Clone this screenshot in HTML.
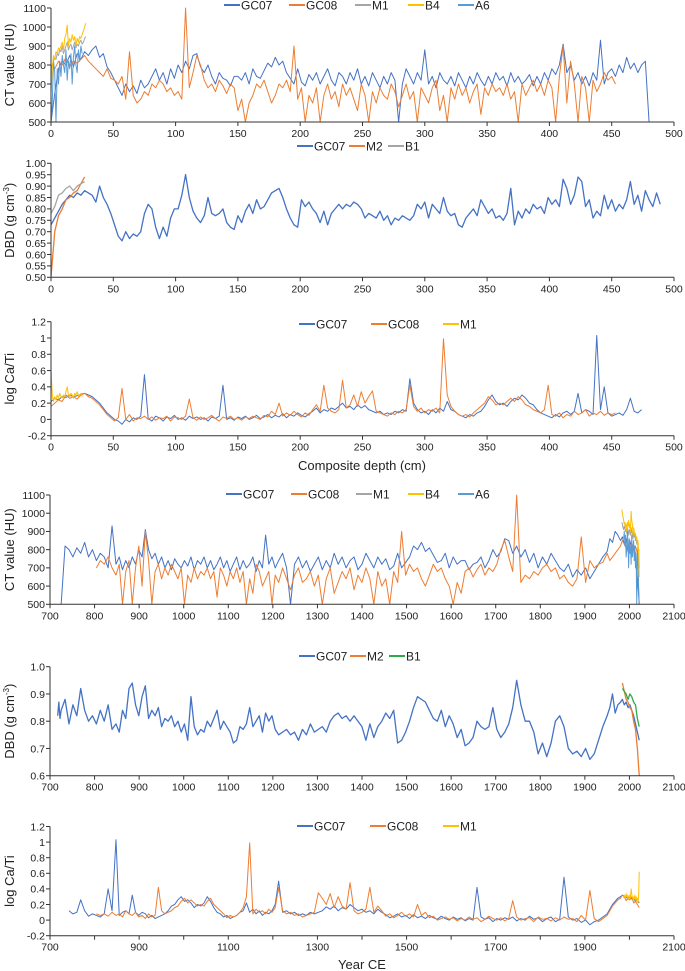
<!DOCTYPE html>
<html><head><meta charset="utf-8"><style>
html,body{margin:0;padding:0;background:#fff;}
svg{display:block;font-family:"Liberation Sans",Arial,sans-serif;}
</style></head><body>
<svg id="fig" width="685" height="971" viewBox="0 0 685 971" xmlns="http://www.w3.org/2000/svg"></svg>
<script>
// ---------- data (depth domain, cm) ----------
const ctGC07Start = 0, ctGC07Step = 3;
const ctGC07 = [500,650,780,820,800,850,790,860,830,870,
850,880,900,840,860,790,760,720,680,640,
700,660,690,650,720,680,700,740,780,720,
760,700,780,730,800,760,820,780,850,860,
790,760,800,740,700,760,730,720,690,740,
740,720,760,700,780,740,730,770,810,790,
840,800,820,760,730,700,780,710,690,750,
720,760,700,740,780,720,690,760,740,700,
760,720,780,700,740,690,760,720,680,740,
700,760,720,500,700,780,740,700,760,720,
880,700,740,680,760,720,700,740,690,760,
720,680,740,700,760,720,690,740,700,760,
720,740,690,760,710,740,700,720,750,690,
740,700,760,720,780,750,800,910,760,800,
720,760,700,740,690,760,720,930,700,760,
780,740,800,760,840,780,810,760,800,820,500];
const ctGC08Start = 0, ctGC08Step = 3;
const ctGC08 = [800,780,820,800,840,790,820,810,830,850,
820,800,780,760,740,780,730,720,700,740,
620,870,640,600,620,660,640,700,680,720,
700,660,680,640,660,620,1100,680,760,850,
800,720,680,700,660,720,690,650,700,680,
560,620,500,600,640,700,680,720,660,600,
640,700,680,720,660,900,620,680,500,640,
600,680,500,640,700,620,660,580,700,640,
680,620,560,700,640,500,660,600,680,640,
620,700,660,580,640,700,620,660,500,680,
640,600,680,720,560,640,500,680,620,700,
640,680,600,660,700,540,680,640,700,660,
680,640,700,620,660,500,700,640,680,720,
660,700,640,720,680,500,740,900,600,820,
700,500,740,680,500,720,660,700,760,720,
740,700];
const ctShortStep = 1;
const ctA6 = [500,600,820,760,500,780,700,820,740,850,800,760,880,720,820,780,860,700,840,900,800,760,880,820,900,860];
const ctB4 = [650,780,850,830,870,860,890,880,900,920,880,940,960,1010,900,940,920,960,930,950,900,940,920,950,940,960,980,1000,1020];
const ctM1 = [700,800,820,840,830,860,850,880,870,900,860,880,900,920,880,900,910,880,900,920,890,910,900,920,930,910,920,940,950];

const dbdGC07Step = 3;
const dbdGC07 = [0.73,0.76,0.79,0.82,0.84,0.86,0.85,0.87,0.86,0.88,
0.87,0.86,0.83,0.90,0.85,0.82,0.78,0.73,0.68,0.66,
0.70,0.67,0.69,0.68,0.70,0.78,0.82,0.80,0.72,0.67,
0.72,0.68,0.76,0.80,0.80,0.86,0.95,0.85,0.79,0.76,
0.74,0.77,0.85,0.78,0.77,0.78,0.80,0.74,0.72,0.71,
0.77,0.74,0.79,0.82,0.78,0.84,0.80,0.81,0.84,0.87,
0.88,0.89,0.85,0.80,0.76,0.73,0.72,0.84,0.81,0.83,
0.80,0.78,0.74,0.79,0.73,0.78,0.80,0.82,0.80,0.82,
0.81,0.83,0.82,0.80,0.76,0.78,0.77,0.76,0.79,0.75,
0.77,0.73,0.76,0.75,0.77,0.76,0.75,0.77,0.82,0.80,
0.83,0.76,0.82,0.80,0.78,0.85,0.79,0.77,0.78,0.73,
0.72,0.76,0.78,0.80,0.77,0.84,0.81,0.78,0.80,0.76,
0.77,0.75,0.78,0.89,0.73,0.79,0.76,0.80,0.78,0.82,
0.80,0.81,0.78,0.85,0.82,0.84,0.81,0.93,0.89,0.82,
0.86,0.94,0.92,0.81,0.84,0.76,0.79,0.77,0.86,0.80,
0.84,0.79,0.82,0.80,0.84,0.92,0.82,0.86,0.79,0.88,
0.84,0.81,0.87,0.82];
const dbdShortStep = 3;
const dbdM2 = [0.50,0.70,0.77,0.80,0.84,0.85,0.87,0.88,0.91,0.94];
const dbdB1 = [0.78,0.81,0.86,0.87,0.89,0.90,0.88,0.90,0.91,0.92];

const catiStep = 3;
const catiGC07 = [0.22,0.26,0.24,0.28,0.27,0.30,0.28,0.29,0.31,0.32,
0.30,0.28,0.24,0.20,0.14,0.08,0.04,0.00,-0.02,-0.06,
0.00,-0.03,0.02,0.00,0.04,0.55,0.01,-0.02,0.04,0.02,
-0.02,0.03,0.01,0.05,0.00,0.02,-0.01,0.04,0.01,0.03,
0.00,0.02,-0.02,0.03,0.01,0.04,0.42,0.00,0.02,-0.01,
0.03,0.01,0.04,0.00,0.02,0.05,0.01,0.03,0.06,0.02,
0.05,0.03,0.07,0.02,0.06,0.04,0.08,0.05,0.03,0.07,
0.10,0.14,0.08,0.12,0.10,0.14,0.12,0.16,0.20,0.14,
0.16,0.12,0.18,0.14,0.17,0.12,0.10,0.08,0.10,0.06,
0.08,0.06,0.10,0.08,0.12,0.10,0.50,0.20,0.12,0.08,
0.10,0.06,0.12,0.08,0.14,0.10,0.22,0.12,0.10,0.06,
0.04,0.02,0.06,0.04,0.08,0.10,0.16,0.24,0.30,0.22,
0.18,0.20,0.16,0.22,0.26,0.24,0.30,0.26,0.20,0.18,
0.12,0.08,0.06,0.04,0.02,0.06,0.03,0.08,0.10,0.06,
0.10,0.32,0.08,0.12,0.10,0.06,1.03,0.12,0.40,0.08,
0.04,0.06,0.08,0.05,0.12,0.26,0.10,0.08,0.12];
const catiGC08 = [0.16,0.20,0.24,0.22,0.30,0.26,0.28,0.25,0.30,0.32,
0.28,0.26,0.22,0.18,0.12,0.06,0.02,-0.02,0.02,0.38,
0.00,0.06,-0.02,0.02,0.01,0.04,0.00,0.03,-0.01,0.02,
0.01,0.04,-0.02,0.03,0.02,0.00,0.04,0.25,0.02,-0.01,
0.03,0.00,0.02,0.05,0.01,-0.02,0.03,0.01,0.04,0.00,
0.02,-0.01,0.03,0.01,0.04,0.02,0.00,0.05,0.03,0.10,
0.06,0.20,0.04,0.08,0.05,0.10,0.06,0.03,0.08,0.05,
0.12,0.18,0.10,0.42,0.14,0.10,0.08,0.12,0.48,0.14,
0.18,0.30,0.16,0.34,0.20,0.28,0.35,0.10,0.08,0.06,
0.04,0.08,0.06,0.10,0.08,0.12,0.42,0.16,0.10,0.14,
0.08,0.12,0.10,0.14,0.08,0.99,0.30,0.16,0.10,0.06,
0.04,0.06,0.03,0.08,0.12,0.16,0.20,0.28,0.24,0.18,
0.20,0.18,0.22,0.26,0.22,0.28,0.24,0.18,0.16,0.12,
0.10,0.08,0.12,0.42,0.06,0.04,0.08,0.02,0.06,0.04,
0.10,0.06,0.08,0.12,0.04,0.08,0.06,0.10,0.05,0.08,
0.06,0.08];
const catiM1Step = 1;
const catiM1 = [0.62,0.30,0.22,0.28,0.24,0.30,0.26,0.32,0.28,0.26,0.30,0.28,0.34,0.40,0.30,0.28,0.32,0.30,0.26,0.32,0.30,0.34,0.28,0.30,0.32,0.28];

// age-depth model knots
const ageDepths = [0,30,45,107,289,315,438,480,495];
const ageYears = [2022,1980,1950,1750,1210,1148,848,725,712];

// tick arrays
const depthTicks = [0,50,100,150,200,250,300,350,400,450,500];
const yearTicks = [700,800,900,1000,1100,1200,1300,1400,1500,1600,1700,1800,1900,2000,2100];
const yearTicksB = [700,900,1100,1300,1500,1700,1900,2100];
const ctTicks = [500,600,700,800,900,1000,1100];
const dbdTicksA = [0.50,0.55,0.60,0.65,0.70,0.75,0.80,0.85,0.90,0.95,1.00];
const dbdTicksB = [0.6,0.7,0.8,0.9,1.0];
const catiTicks = [-0.2,0,0.2,0.4,0.6,0.8,1,1.2];

const C = {GC07:'#4472C4',GC08:'#ED7D31',M1:'#A5A5A5',B4:'#FFC000',A6:'#5B9BD5',M2:'#ED7D31',B1:'#2EAA4A'};

function ageOf(d){
  if(d<=ageDepths[0]) return ageYears[0];
  for(let i=1;i<ageDepths.length;i++){
    if(d<=ageDepths[i]){const t=(d-ageDepths[i-1])/(ageDepths[i]-ageDepths[i-1]);return ageYears[i-1]+t*(ageYears[i]-ageYears[i-1]);}
  }
  const n=ageDepths.length-1;
  return ageYears[n]+(d-ageDepths[n])*(ageYears[n]-ageYears[n-1])/(ageDepths[n]-ageDepths[n-1]);
}

const NS='http://www.w3.org/2000/svg';
const svg=document.getElementById('fig');
function mk(tag,attrs,parent){const e=document.createElementNS(NS,tag);for(const k in attrs)e.setAttribute(k,attrs[k]);(parent||svg).appendChild(e);return e;}

let clipId=0;
function panel(p){
  const col=k=>(p.colors&&p.colors[k])||C[k];
  const g=mk('g',{});
  
  
  const L=p.left,R=p.right,T=p.top,B=p.bottom;
  const sx=v=>L+(v-p.xmin)/(p.xmax-p.xmin)*(R-L);
  const sy=v=>B-(v-p.ymin)/(p.ymax-p.ymin)*(B-T);
  const cid='clip'+(clipId++);
  const cp=mk('clipPath',{id:cid},g);
  mk('rect',{x:L,y:T-2,width:R-L,height:B-T+2},cp);
  const sg=mk('g',{'clip-path':'url(#'+cid+')'},g);
  p.series.forEach(s=>{
    let d='';
    s.values.forEach((v,i)=>{
      const dep=s.start+i*s.step;
      const xv=p.year?ageOf(dep):dep;
      d+=(i?'L':'M')+sx(xv).toFixed(2)+' '+sy(Math.max(v,p.ymin)).toFixed(2);
    });
    const path=mk('path',{d:d,fill:'none',stroke:col(s.key),'stroke-width':p.sw,'stroke-linejoin':'round'},sg);
    
    
  });
  const ax=mk('g',{stroke:'#333','stroke-width':1},g);
  
  
  mk('line',{x1:L,y1:T,x2:L,y2:B},ax);
  mk('line',{x1:L,y1:B,x2:R,y2:B},ax);
  p.yticks.forEach(t=>{
    const y=sy(t);
    mk('line',{x1:L-4,y1:y,x2:L,y2:y},ax);
    const tx=mk('text',{x:L-5,y:y+3.8,'text-anchor':'end','font-size':10.5,fill:'#222'},g);
    tx.textContent=p.yfmt(t);
    
    
  });
  p.xticks.forEach(t=>{
    const x=sx(t);
    mk('line',{x1:x,y1:B,x2:x,y2:B+4},ax);
  });
  p.xlabels.forEach(t=>{
    const tx=mk('text',{x:sx(t),y:B+15,'text-anchor':'middle','font-size':10.5,fill:'#222'},g);
    tx.textContent=String(t);
    
    
  });
  const yt=mk('text',{x:0,y:0,'text-anchor':'middle','font-size':13,fill:'#222',transform:'translate('+p.ytx+','+((T+B)/2)+') rotate(-90)'},g);
  yt.innerHTML=p.ytitle;
  
  
  p.legend.forEach(le=>{
    const lg=mk('g',{},g);
    
    
    mk('line',{x1:le.x,y1:p.ly,x2:le.x+16,y2:p.ly,stroke:col(le.key),'stroke-width':2},lg);
    const t=mk('text',{x:le.x+17,y:p.ly+4.3,'font-size':12,fill:'#222'},lg);
    t.textContent=le.key;
  });
  if(p.xtitle){
    const xt=mk('text',{x:p.xtx,y:p.xty,'text-anchor':'middle','font-size':13,fill:'#222'},g);
    xt.textContent=p.xtitle;
    
    
  }
}
const fCT=t=>String(t), fD2=t=>t.toFixed(2), fD1=t=>t.toFixed(1), fC=t=>String(Math.round(t*10)/10);

const ctSeries=[
  {key:'GC07',values:ctGC07,start:ctGC07Start,step:ctGC07Step},
  {key:'GC08',values:ctGC08,start:ctGC08Start,step:ctGC08Step},
  {key:'M1',values:ctM1,start:0,step:ctShortStep},
  {key:'A6',values:ctA6,start:0,step:ctShortStep},
  {key:'B4',values:ctB4,start:0,step:ctShortStep}];
const dbdSeries=[
  {key:'GC07',values:dbdGC07,start:0,step:dbdGC07Step},
  {key:'M2',values:dbdM2,start:0,step:dbdShortStep},
  {key:'B1',values:dbdB1,start:0,step:dbdShortStep}];
const catiSeries=[
  {key:'GC07',values:catiGC07,start:0,step:catiStep},
  {key:'GC08',values:catiGC08,start:0,step:catiStep},
  {key:'M1',values:catiM1,start:0,step:catiM1Step}];
const ctLeg=x=>[{key:'GC07',x:x[0]},{key:'GC08',x:x[1]},{key:'M1',x:x[2]},{key:'B4',x:x[3]},{key:'A6',x:x[4]}];
const dbdTitle='DBD (g cm<tspan font-size="8" dy="-5">-3</tspan><tspan dy="5">)</tspan>';

panel({name:'ct-depth-chart',left:51,right:674,top:8,bottom:122,xmin:0,xmax:500,ymin:500,ymax:1100,sw:1,
  series:ctSeries,yticks:ctTicks,yfmt:fCT,xticks:depthTicks,xlabels:depthTicks,ytx:14,ytitle:'CT value (HU)',
  ly:5,legend:ctLeg([224,289,355,408,458])});
panel({name:'dbd-depth-chart',left:51,right:674,top:163.3,bottom:277.3,xmin:0,xmax:500,ymin:0.5,ymax:1.0,sw:1.3,
  colors:{B1:'#A5A5A5'},
  series:dbdSeries,yticks:dbdTicksA,yfmt:fD2,xticks:depthTicks,xlabels:depthTicks,ytx:14,ytitle:dbdTitle,
  ly:146,legend:[{key:'GC07',x:297},{key:'M2',x:349},{key:'B1',x:388}]});
panel({name:'cati-depth-chart',left:51,right:674,top:321.7,bottom:435.7,xmin:0,xmax:500,ymin:-0.2,ymax:1.2,sw:1,
  colors:{M1:'#FFC000'},
  series:catiSeries,yticks:catiTicks,yfmt:fC,xticks:depthTicks,xlabels:depthTicks,ytx:14,ytitle:'log Ca/Ti',
  ly:324,legend:[{key:'GC07',x:299},{key:'GC08',x:371},{key:'M1',x:443}],
  xtitle:'Composite depth (cm)',xtx:362,xty:470});
panel({name:'ct-year-chart',year:true,left:50,right:674,top:495,bottom:604.3,xmin:700,xmax:2100,ymin:500,ymax:1100,sw:1,
  series:ctSeries,yticks:ctTicks,yfmt:fCT,xticks:yearTicks,xlabels:yearTicks,ytx:14,ytitle:'CT value (HU)',
  ly:494,legend:ctLeg([226,291,356,408,458])});
panel({name:'dbd-year-chart',year:true,left:50,right:674,top:666.7,bottom:775.7,xmin:700,xmax:2100,ymin:0.6,ymax:1.0,sw:1.3,
  series:dbdSeries,yticks:dbdTicksB,yfmt:fD1,xticks:yearTicks,xlabels:yearTicks,ytx:14,ytitle:dbdTitle,
  ly:656,legend:[{key:'GC07',x:299},{key:'M2',x:350},{key:'B1',x:389}]});
panel({name:'cati-year-chart',year:true,left:50,right:674,top:826.5,bottom:935.7,xmin:700,xmax:2100,ymin:-0.2,ymax:1.2,sw:1,
  colors:{M1:'#FFC000'},
  series:catiSeries,yticks:catiTicks,yfmt:fC,xticks:yearTicks,xlabels:yearTicksB,ytx:14,ytitle:'log Ca/Ti',
  ly:826,legend:[{key:'GC07',x:297},{key:'GC08',x:370},{key:'M1',x:443}],
  xtitle:'Year CE',xtx:362,xty:969});
</script>
</body></html>
